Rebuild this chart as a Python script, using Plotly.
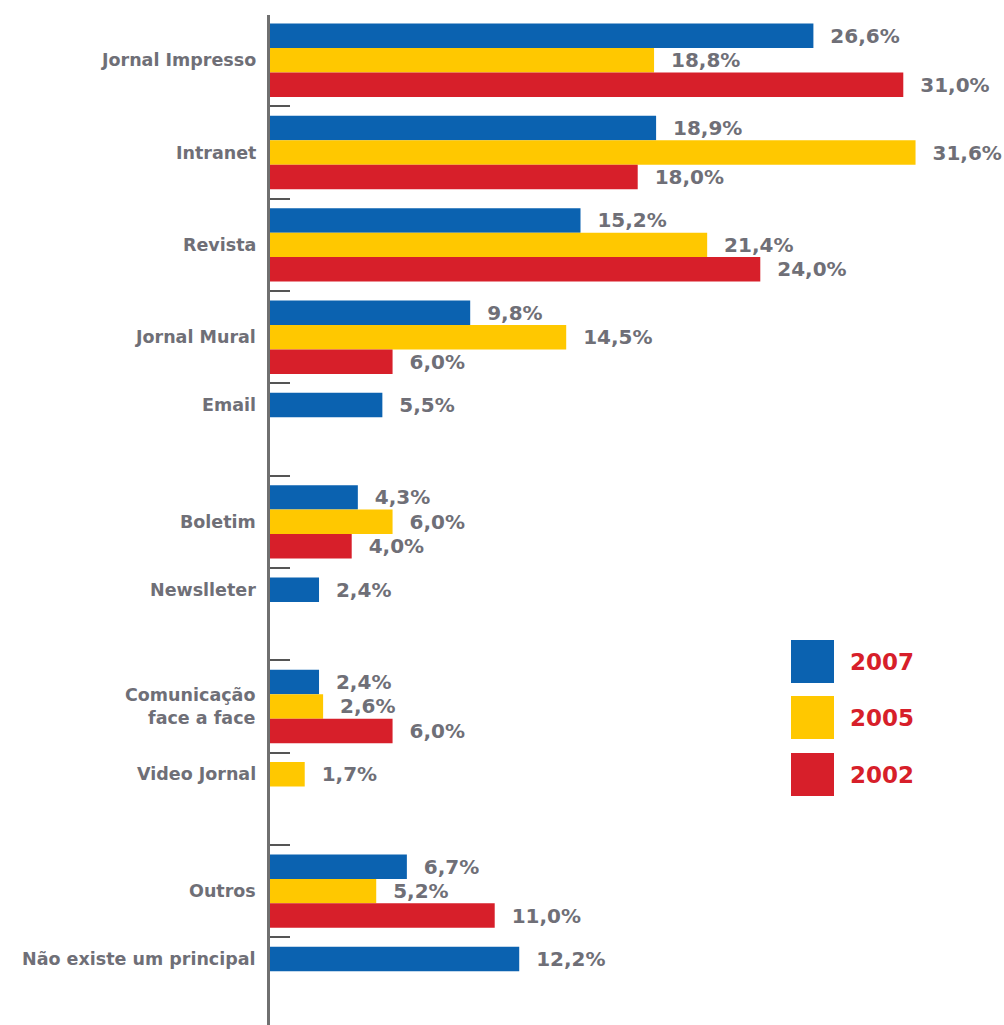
import plotly.graph_objects as go

categories = ["Jornal Impresso", "Intranet", "Revista", "Jornal Mural", "Email",
              "Boletim", "Newslleter", "Comunicação<br>face a face", "Video Jornal",
              "Outros", "Não existe um principal"]
v2007 = [26.6, 18.9, 15.2, 9.8, 5.5, 4.3, 2.4, 2.4, None, 6.7, 12.2]
v2005 = [18.8, 31.6, 21.4, 14.5, None, 6.0, None, 2.6, 1.7, 5.2, None]
v2002 = [31.0, 18.0, 24.0, 6.0, None, 4.0, None, 6.0, None, 11.0, None]
series_names = ["2007", "2005", "2002"]

colors = ["#0B62B0", "#FFC800", "#D71F2A"]
label_gray = "#6F6F77"
FONT = "DejaVu Sans"

series = [v2007, v2005, v2002]
bw = 0.265
# within each category, present bars stack from the top of the slot
offsets = [[0] * len(categories) for _ in series]
label_pos = []
for i in range(len(categories)):
    r = 0
    centers = []
    for s in range(len(series)):
        if series[s][i] is not None:
            offsets[s][i] = -1.5 * bw + r * bw
            centers.append(offsets[s][i] + bw / 2)
            r += 1
    label_pos.append(i + sum(centers) / len(centers))

fig = go.Figure()
for s, name in enumerate(series_names):
    fig.add_trace(go.Bar(
        y=categories, x=series[s], orientation="h", name=name,
        marker=dict(color=colors[s], line=dict(width=0)),
        width=bw, offset=offsets[s],
        texttemplate="\u00a0\u00a0%{x:.1f}%", textposition="outside",
        constraintext="none", cliponaxis=False,
        textfont=dict(family=FONT, size=20, color=label_gray, weight="bold"),
        showlegend=False,
    ))

fig.update_layout(
    width=1004, height=1025,
    margin=dict(l=270, r=19, t=15, b=0),
    barmode="overlay",
    separators=",.",
    plot_bgcolor="white", paper_bgcolor="white",
    xaxis=dict(range=[0, 35], visible=False, showgrid=False, zeroline=False),
    yaxis=dict(
        type="category", range=[10.45, -0.49],
        showline=True, linecolor="#707070", linewidth=3,
        ticks="inside", ticklen=20, tickwidth=2, tickcolor="#555555",
        tickson="boundaries", showgrid=False, zeroline=False,
        showticklabels=False,
    ),
)

# category labels, centred on the bars present in each category
for i, cat in enumerate(categories):
    fig.add_annotation(xref="paper", yref="y", x=0, y=label_pos[i],
                       xanchor="right", yanchor="middle", xshift=-12,
                       showarrow=False, text=cat, align="right",
                       font=dict(family=FONT, size=17.5, color=label_gray, weight="bold"))

# legend drawn as swatches + labels in paper coordinates
def px_x(x):
    return (x - 270) / 715.0

def px_y(y):
    return (1025 - y) / 1010.0

tops = [640, 696, 753]
for s, name in enumerate(series_names):
    t = tops[s]
    fig.add_shape(type="rect", xref="paper", yref="paper",
                  x0=px_x(791), x1=px_x(834), y0=px_y(t + 43), y1=px_y(t),
                  fillcolor=colors[s], line=dict(width=0))
    fig.add_annotation(xref="paper", yref="paper", x=px_x(848), y=px_y(t + 21.5),
                       xanchor="left", yanchor="middle", showarrow=False,
                       text=name,
                       font=dict(family=FONT, size=23, color="#D71F2A", weight="bold"))

fig.write_html("out.html", config={"displayModeBar": False},
               post_script="document.body.style.margin='0';")
